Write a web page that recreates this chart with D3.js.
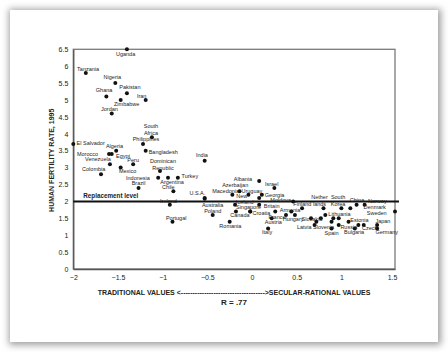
<!DOCTYPE html>
<html>
<head>
<meta charset="utf-8">
<script src="https://cdn.jsdelivr.net/npm/d3@7"></script>
<style>
  html, body { margin: 0; padding: 0; background: #ffffff; width: 448px; height: 352px; overflow: hidden; }
  .card { position: absolute; left: 10px; top: 10px; width: 428px; height: 332px; background: #fff;
          box-shadow: 1px 1px 7px 2px rgba(0,0,0,0.38); }
  svg { position: absolute; left: 0; top: 0; }
  text { font-family: "Liberation Sans", Arial, sans-serif; }
</style>
</head>
<body>
<div class="card"></div>
<svg id="chart" width="448" height="352"></svg>
<script>
// ---------- DATA ----------
const countries = [
  "Uganda","Tanzania","Nigeria","Pakistan","Ghana","Zimbabwe","Iran","Jordan",
  "South Africa","Philippines","Bangladesh","El Salvador","Algeria","Morocco","Egypt","Venezuela",
  "Peru","Colombia","Mexico","Dominican Republic","India","Indonesia","Brazil","Argentina",
  "Turkey","Chile","Ireland","Portugal","U.S.A.","Australia","Poland","Romania",
  "Macedonia","Azerbaijan","Albania","Uruguay","New Zealand","Georgia","Israel","Iceland",
  "Singapore","Britain","Canada","Croatia","Moldova","Finland","Netherlands","South Korea",
  "China","Denmark","Norway","Sweden","Armenia","France","Austria","Italy",
  "Belgium","Hungary","Slovakia","Latvia","Slovenia","Estonia","Lithuania","Belarus",
  "Spain","Ukraine","Russia","Bulgaria","Czech","Germany","Japan","E. Germany",
  "Serbia","Switzerland"
];
const secularValues = [
  -1.40,-1.86,-1.53,-1.40,-1.63,-1.47,-1.19,-1.57,
  -1.12,-1.22,-1.19,-2.00,-1.52,-1.60,-1.57,-1.59,
  -1.33,-1.69,-1.47,-1.03,-0.53,-1.05,-1.27,-0.94,
  -0.83,-0.88,-0.92,-0.89,-0.53,-0.53,-0.44,-0.25,
  -0.22,-0.14,0.08,0.08,-0.04,0.11,0.25,-0.19,
  -0.02,0.08,-0.18,-0.02,0.46,0.56,0.80,1.00,
  1.10,1.17,1.26,1.60,0.44,0.26,0.22,0.18,
  0.38,0.48,0.66,0.70,0.72,1.08,0.91,0.82,
  0.89,0.89,0.97,1.15,1.25,1.40,1.40,1.19,
  0.97,0.77
];
const fertility = [
  6.5,5.8,5.5,5.2,5.1,5.0,5.0,4.6,
  3.9,3.7,3.5,3.7,3.5,3.4,3.4,3.1,
  3.1,2.8,3.0,2.9,3.2,2.7,2.4,2.7,
  2.7,2.3,1.9,1.4,2.1,2.08,1.6,1.4,
  2.2,2.3,2.6,2.1,2.2,2.2,2.4,1.9,
  1.7,1.9,1.7,1.7,2.0,1.8,1.8,1.8,
  1.8,1.9,1.9,1.7,1.7,1.7,1.5,1.2,
  1.6,1.6,1.5,1.3,1.4,1.4,1.5,1.6,
  1.2,1.4,1.3,1.2,1.3,1.2,1.3,1.3,
  1.5,1.5
];
const xTickValues = [-2,-1.5,-1,-0.5,0,0.5,1,1.5];
const yTickValues = [0,0.5,1,1.5,2,2.5,3,3.5,4,4.5,5,5.5,6,6.5];
const replacementLevel = 2.0;
const xTitle = "TRADITIONAL VALUES <" + "-".repeat(36) + ">SECULAR-RATIONAL VALUES";
const yTitle = "HUMAN FERTILITY RATE, 1995";
const rText = "R = .77";

// ---------- LABEL STYLE (anchor, dx, dy px; optional lines) ----------
const labelStyle = {
  "Uganda":["middle",-1.3,7],"Tanzania":["middle",2.3,-2.3],"Nigeria":["middle",-3,-3.7],
  "Pakistan":["middle",3,-4.7],"Ghana":["middle",-2.3,-4.7],"Zimbabwe":["middle",6,5.7],
  "Iran":["middle",-4,-2.3],"Jordan":["middle",-2.3,-2.3],
  "South Africa":["middle",-1,-2.3,["South","Africa"]],
  "Philippines":["middle",3,-2.7],"Bangladesh":["start",3,3],"El Salvador":["start",3.3,1.3],
  "Algeria":["middle",-1.7,-3],"Morocco":["end",-11,2],"Egypt":["middle",11.3,3.7],
  "Venezuela":["middle",-12,-3.3],"Peru":["middle",0,-2],"Colombia":["middle",-7.3,-3.3],
  "Mexico":["middle",7,5.7],"Dominican Republic":["middle",3,-0.7,["Dominican","Republic"]],
  "India":["middle",-2.7,-3.7],"Indonesia":["end",-8.3,2],"Brazil":["middle",0,-3.3],
  "Argentina":["middle",4,6.3],"Turkey":["start",3.7,0.7],"Chile":["middle",-5,-2],
  "Ireland":["middle",-1.3,-1.7],"Portugal":["middle",3.7,-2],"U.S.A.":["middle",-7.3,-3.3],
  "Australia":["middle",8,8],"Poland":["middle",0,-2],"Romania":["middle",0.7,6],
  "Macedonia":["middle",-6.7,-1.3],"Azerbaijan":["middle",-4.3,-4.3],"Albania":["end",-7,0],
  "Uruguay":["middle",-7.3,-5.3],"New Zealand":["middle",-6.7,3.3,["New"]],
  "Georgia":["start",3,2.3],"Israel":["middle",-2.7,-2],"Iceland":["middle",9.7,-0.3],
  "Singapore":["middle",-1.7,-2.3],"Britain":["start",4.7,3.3],"Canada":["middle",4,5.3],
  "Croatia":["start",2.3,3.7],"Moldova":["end",-2,1.0],"Finland":["middle",0.3,-2],
  "Netherlands":["middle",-4,-2,["Nether","lands"]],"South Korea":["middle",-3.3,-2.3,["South","Korea"]],
  "China":["middle",6.7,-6],"Denmark":["start",7,4.3],"Norway":["middle",12.7,-1.3],
  "Sweden":["end",-8.3,3],"Armenia":["middle",-1.3,0],"France":["middle",1.7,7],
  "Austria":["middle",1.7,5.3],"Italy":["middle",-1,5.7],"Hungary":["middle",-1.8,6.3],
  "Slovakia":["middle",1,3],"Latvia":["end",-3,3.7],"Slovenia":["start",-3.3,7],
  "Estonia":["start",1.7,0],"Lithuania":["start",-5,-2],"Spain":["middle",0,6.3],
  "Russia":["start",1.7,3.7],"Bulgaria":["middle",-0.7,6],"Czech":["start",-1.7,5.3],
  "Germany":["start",-1.7,6],"Japan":["start",-1.7,-2]
};

// ---------- CHART ----------
(function () {
const svg = d3.select("#chart");
const pLeft = 73.3, pRight = 395, pTop = 49.3, pBottom = 269;
const x = d3.scaleLinear().domain([-2, 1.6]).range([pLeft, pRight]);
const y = d3.scaleLinear().domain([0, 6.5]).range([pBottom, pTop]);

// frame
svg.append("rect").attr("x", pLeft).attr("y", pTop)
  .attr("width", pRight - pLeft).attr("height", pBottom - pTop)
  .attr("fill", "none").attr("stroke", "#7a7a7a").attr("stroke-width", 1.3);

// axes
const yAxis = svg.append("g").attr("transform", `translate(${pLeft},0)`)
  .call(d3.axisLeft(y).tickValues(yTickValues).tickSize(0).tickPadding(5).tickFormat(d3.format("")));
const xAxis = svg.append("g").attr("transform", `translate(0,${pBottom})`)
  .call(d3.axisBottom(x).tickValues(xTickValues).tickSize(0).tickPadding(6).tickFormat(d3.format("")));
[xAxis, yAxis].forEach(g => {
  g.select(".domain").attr("stroke", "#555").attr("stroke-width", 1.3);
  g.selectAll("text").attr("font-size", 7).attr("fill", "#222")
    .attr("font-family", "'Liberation Sans', Arial, sans-serif");
});
xAxis.selectAll(".tick").filter(d => d === 1.5).select("text").attr("dx", 6);

// replacement line
svg.append("line").attr("x1", pLeft).attr("x2", pRight + 4)
  .attr("y1", y(replacementLevel)).attr("y2", y(replacementLevel))
  .attr("stroke", "#111").attr("stroke-width", 2);
svg.append("text").attr("x", pLeft + 10).attr("y", y(replacementLevel) - 3.5)
  .attr("font-size", 6.3).attr("font-weight", "bold").attr("fill", "#222")
  .text("Replacement level");

// points
const pts = countries.map((c, i) => ({ name: c, vx: secularValues[i], vy: fertility[i] }));
svg.append("g").selectAll("circle").data(pts).join("circle")
  .attr("cx", d => x(d.vx)).attr("cy", d => y(d.vy)).attr("r", 2).attr("fill", "#111");

// labels
const lg = svg.append("g").attr("font-size", 5.5).attr("fill", "#222");
pts.forEach(d => {
  const s = labelStyle[d.name];
  if (!s) return;
  const lines = s[3] || [d.name];
  const n = lines.length;
  lines.forEach((ln, k) => {
    lg.append("text")
      .attr("x", x(d.vx) + s[1])
      .attr("y", y(d.vy) + s[2] - (n - 1 - k) * 7)
      .attr("text-anchor", s[0])
      .text(ln);
  });
});

// titles
svg.append("text").attr("transform", "translate(53.5,160.3) rotate(-90)")
  .attr("text-anchor", "middle").attr("font-size", 7).attr("font-weight", "bold").attr("fill", "#222")
  .text(yTitle);
svg.append("text").attr("x", 234).attr("y", 295)
  .attr("text-anchor", "middle").attr("font-size", 7).attr("font-weight", "bold").attr("fill", "#222")
  .text(xTitle);
svg.append("text").attr("x", 234).attr("y", 305)
  .attr("text-anchor", "middle").attr("font-size", 8).attr("font-weight", "bold").attr("fill", "#222")
  .text(rText);
})();
</script>
</body>
</html>
